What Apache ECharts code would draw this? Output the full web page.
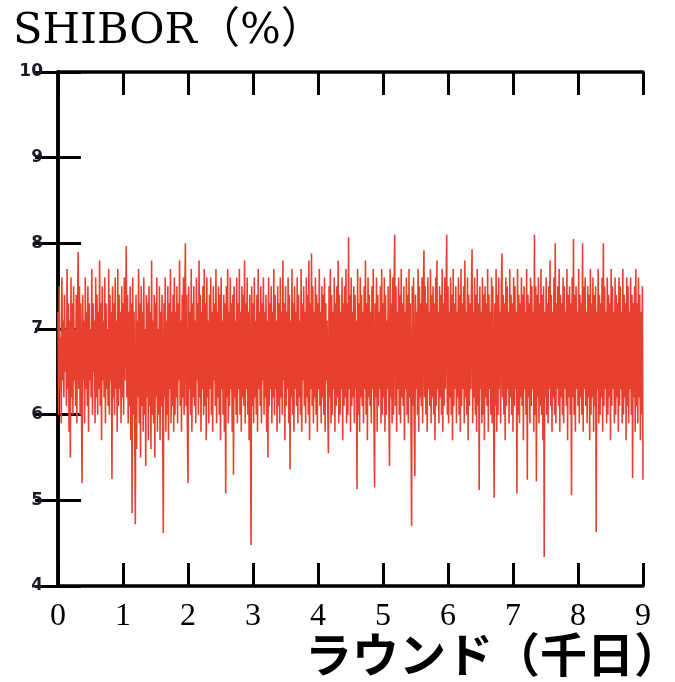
<!DOCTYPE html>
<html>
<head>
<meta charset="utf-8">
<script src="https://cdn.jsdelivr.net/npm/echarts@6/dist/echarts.min.js"></script>
<style>
html,body{margin:0;padding:0;background:#fff;}
#chart{width:675px;height:682px;}
</style>
</head>
<body>
<div id="chart"></div>
<script>
// x step in thousands of days between successive observations
const xStep = 0.01;
const xTicks = [0, 1, 2, 3, 4, 5, 6, 7, 8, 9];
const yTicks = [4, 5, 6, 7, 8, 9, 10];
const titleText = 'SHIBOR（%）';
const xName = 'ラウンド（千日）';
// SHIBOR values
const shibor = [
7.2,6.0,7.5,6.3,6.9,5.9,7.6,6.4,7.1,6.2,
7.4,6.5,7.0,6.1,7.7,6.3,7.3,5.8,7.1,5.5,
7.6,6.2,7.3,6.0,7.5,6.4,7.0,6.1,7.4,5.9,
7.2,7.9,6.3,7.5,6.0,7.3,6.2,5.2,7.4,6.4,
7.1,5.9,7.6,6.3,7.2,6.1,7.5,5.8,7.3,6.4,
7.0,6.2,7.7,6.0,7.3,6.5,7.1,5.9,7.6,6.2,
7.4,6.0,7.2,6.3,7.8,6.1,7.3,5.7,7.5,6.4,
7.1,6.2,7.6,5.9,7.3,6.3,7.0,6.1,7.7,6.0,
7.4,6.4,7.2,5.25,7.5,6.2,7.3,6.0,7.6,6.3,
7.1,5.8,7.7,6.1,7.4,6.3,7.2,5.9,7.5,6.2,
7.3,6.0,7.6,6.4,7.1,7.97,6.2,7.4,5.9,7.2,
6.1,7.5,5.7,7.3,4.85,7.6,6.0,7.2,5.8,4.72,
7.4,5.6,7.1,6.2,7.7,5.9,7.3,5.5,7.5,6.1,
7.2,5.8,7.6,6.0,7.0,5.4,7.4,6.2,7.3,5.7,
7.5,6.1,7.2,5.6,7.8,6.0,7.1,5.9,7.4,5.5,
7.3,6.2,7.6,5.8,7.0,6.0,7.5,5.7,7.2,6.1,
7.4,5.9,4.62,7.3,6.2,7.6,5.8,7.1,6.0,7.5,
5.7,7.3,6.3,7.7,5.9,7.2,6.1,7.4,5.8,7.6,
6.0,7.2,6.2,7.5,5.9,7.3,6.4,7.8,6.1,7.1,
5.8,7.4,6.2,7.6,6.0,7.3,8.0,6.1,7.4,5.9,
5.2,7.5,6.3,7.2,6.0,7.7,5.8,7.3,6.2,7.5,
6.1,7.1,5.9,7.6,6.4,7.3,6.0,7.8,6.2,7.4,
5.8,7.2,6.3,7.5,6.0,7.7,6.1,7.3,5.7,7.6,
6.2,7.1,5.9,7.4,6.3,7.6,6.0,7.2,5.8,7.5,
6.4,7.3,6.1,7.7,5.9,7.2,6.2,7.5,6.0,7.4,
5.7,7.6,6.3,7.1,6.0,7.4,5.8,7.3,5.08,7.5,
6.2,7.7,5.9,7.2,6.1,7.6,6.3,7.3,5.8,7.4,
5.3,7.5,6.2,7.1,6.0,7.6,5.9,7.3,6.3,7.7,
6.0,7.2,5.8,7.5,6.2,7.4,6.1,7.8,5.9,7.3,
6.3,7.6,6.0,7.2,5.7,7.4,6.2,4.48,7.5,6.1,
7.3,5.9,7.6,6.2,7.1,6.0,7.4,5.8,7.7,6.3,
7.2,6.1,7.5,5.9,7.3,6.4,7.6,6.0,7.2,6.2,
7.4,5.8,7.1,5.5,7.6,6.1,7.3,6.3,7.5,5.9,
7.2,6.2,7.7,6.0,7.4,6.3,7.1,5.8,7.5,6.1,
7.3,5.9,7.6,6.2,7.2,6.0,7.8,6.4,7.3,5.7,
7.5,6.1,7.2,6.3,7.6,5.9,7.4,5.36,7.1,6.2,
7.7,6.0,7.3,5.8,7.5,6.3,7.2,6.1,7.6,5.9,
7.4,6.2,7.1,6.0,7.7,5.8,7.3,6.4,7.5,6.1,
7.2,5.9,7.6,6.2,7.4,6.0,7.8,5.7,7.3,6.3,
7.88,6.1,7.5,5.9,7.2,6.2,7.6,6.0,7.4,5.8,
7.3,6.3,7.7,6.1,7.2,5.9,7.5,6.2,7.4,6.0,
7.6,5.8,7.3,6.4,7.1,6.1,5.55,7.5,6.2,7.7,
5.9,7.4,6.0,7.2,6.3,7.6,5.8,7.3,6.1,7.5,
6.2,7.8,5.9,7.4,6.0,7.2,6.3,7.6,5.7,7.3,
6.1,7.5,6.2,7.7,5.9,7.3,6.0,8.07,6.3,7.4,
5.8,7.6,6.1,7.2,6.2,7.5,5.9,7.4,6.3,7.1,
5.13,7.7,6.0,7.3,5.8,7.6,6.2,7.4,6.1,7.2,
5.9,7.5,6.3,7.8,6.0,7.3,5.7,7.6,6.2,7.4,
6.1,7.2,5.9,7.5,6.3,7.7,6.0,5.15,7.3,6.2,
7.6,5.8,7.4,6.1,7.2,6.3,7.5,5.9,7.7,6.0,
7.3,6.2,7.6,5.8,7.4,6.0,7.1,6.3,7.5,6.1,
5.4,7.7,6.2,7.3,5.9,7.6,6.0,7.4,8.1,6.1,
7.5,5.8,7.2,6.3,7.6,6.0,7.4,5.9,7.7,6.2,
7.3,6.1,7.5,5.7,7.2,6.3,7.6,6.0,7.4,5.9,
7.7,6.2,7.3,6.0,4.7,7.5,6.1,7.6,5.9,5.28,
7.4,6.3,7.2,6.0,7.7,5.8,7.5,6.2,7.3,6.1,
7.6,5.9,7.4,7.92,6.2,7.5,6.0,7.3,5.8,7.6,
6.3,7.2,6.1,7.7,5.9,7.4,6.2,7.5,6.0,7.3,
5.7,7.6,6.1,7.8,6.3,7.2,5.9,7.5,6.2,7.4,
6.0,7.7,5.8,7.3,6.1,7.6,6.3,7.4,8.1,6.0,
7.5,5.9,7.2,6.2,7.6,6.0,7.4,5.7,7.7,6.1,
7.3,6.3,7.5,5.9,7.2,6.2,7.6,6.0,7.4,5.8,
7.7,6.1,7.3,6.3,7.5,5.9,7.8,6.2,7.2,6.0,
7.6,5.7,7.4,6.1,7.3,6.3,7.5,7.93,5.9,7.2,
6.2,7.6,6.0,7.4,5.8,7.7,6.1,7.3,5.12,7.5,
6.3,7.2,5.9,7.6,6.0,7.4,5.7,7.5,6.2,7.3,
6.1,7.7,5.8,7.4,6.3,7.2,6.0,7.6,5.9,7.5,
6.2,5.03,7.3,6.1,7.7,5.8,7.4,6.0,7.6,6.3,
7.2,5.9,7.5,7.88,6.2,7.4,6.0,7.3,5.7,7.6,
6.1,7.5,6.3,7.2,5.9,7.7,6.2,7.4,6.0,7.3,
5.8,7.6,6.1,7.5,6.3,7.2,5.08,7.7,6.0,7.4,
5.9,7.3,6.2,7.6,6.1,7.4,5.7,7.5,6.3,7.2,
6.0,7.7,5.24,7.4,6.2,7.3,5.9,7.6,6.1,7.5,
6.3,7.2,5.8,8.1,6.0,7.5,5.22,7.4,6.2,7.6,
5.9,7.3,6.1,7.7,6.0,7.4,5.7,7.5,4.34,7.2,
6.2,7.6,6.0,7.3,5.9,7.5,6.3,7.8,6.1,7.4,
5.8,7.2,6.2,7.6,6.0,8.0,5.9,7.3,6.3,7.5,
6.1,7.7,5.8,7.4,6.2,7.3,6.0,7.6,5.9,7.5,
6.3,7.2,6.1,7.7,5.7,7.4,6.2,7.5,6.0,7.3,
5.06,7.6,6.2,8.05,6.0,7.4,5.8,7.5,6.3,7.2,
6.1,7.7,5.9,7.4,6.2,7.3,6.0,8.0,5.8,7.5,
6.3,7.6,6.1,7.2,5.9,7.5,6.2,7.4,5.7,7.7,
6.0,7.3,6.2,7.6,5.8,7.4,6.1,7.5,4.63,7.2,
6.3,7.7,5.9,7.4,6.0,7.3,6.2,7.6,5.8,8.0,
6.1,7.5,6.3,7.2,5.9,7.6,6.0,7.4,6.2,7.3,
5.7,7.7,6.1,7.5,6.3,7.2,5.9,7.6,6.0,7.4,
6.2,7.3,5.8,7.6,6.1,7.5,6.3,7.2,5.9,7.7,
6.0,7.4,6.2,7.3,5.7,7.6,6.1,7.5,5.9,7.2,
6.3,7.6,6.0,7.4,5.26,7.3,6.2,7.5,5.8,7.7,
6.1,7.3,5.9,7.6,6.2,7.4,5.7,7.2,6.0,7.5,
5.24
];

const seriesData = shibor.map((v, i) => [+(i * xStep).toFixed(4), v]);

const chart = echarts.init(document.getElementById('chart'), null, {renderer: 'canvas'});
const black = '#000';
const tickStyle = {show: true, inside: true, length: 23, lineStyle: {color: black, width: 3}};
const lineStyle = {show: true, lineStyle: {color: black, width: 3.5}};

chart.setOption({
  animation: false,
  backgroundColor: '#fff',
  title: {
    text: titleText,
    left: 8,
    top: 5,
    textStyle: {fontFamily: "'DejaVu Serif', 'Noto Sans CJK JP', serif", fontSize: 43, fontWeight: 'normal', color: '#000'}
  },
  grid: {left: 58, right: 32, top: 72, bottom: 96},
  xAxis: [{
    type: 'value', min: xTicks[0], max: xTicks[xTicks.length - 1], interval: 1,
    position: 'bottom',
    axisLine: lineStyle, axisTick: tickStyle, splitLine: {show: false},
    axisLabel: {show: true, margin: 15, fontFamily: "'Liberation Serif', serif", fontSize: 32, color: '#000',
      formatter: v => String(v)}
  }, {
    type: 'value', min: xTicks[0], max: xTicks[xTicks.length - 1], interval: 1,
    position: 'top',
    axisLine: lineStyle, axisTick: tickStyle, splitLine: {show: false}, axisLabel: {show: false}
  }],
  yAxis: [{
    type: 'value', min: yTicks[0], max: yTicks[yTicks.length - 1], interval: 1,
    position: 'left',
    axisLine: lineStyle, axisTick: tickStyle, splitLine: {show: false},
    axisLabel: {show: true, margin: 15, fontFamily: "'DejaVu Sans', sans-serif", fontSize: 17, fontWeight: 'bold', color: '#1a1a2a'}
  }, {
    type: 'value', min: yTicks[0], max: yTicks[yTicks.length - 1], interval: 1,
    position: 'right',
    axisLine: lineStyle, axisTick: tickStyle, splitLine: {show: false}, axisLabel: {show: false}
  }],
  graphic: [{
    type: 'text',
    right: -6,
    top: 631,
    style: {text: xName, fontFamily: "'Noto Sans CJK JP', sans-serif", fontSize: 47, fontWeight: 'bold', fill: '#000'}
  }],
  series: [{
    type: 'line',
    data: seriesData,
    xAxisIndex: 0, yAxisIndex: 0,
    showSymbol: false,
    symbol: 'none',
    lineStyle: {color: '#e8402f', width: 1.6},
    z: 2
  }]
});
</script>
</body>
</html>
